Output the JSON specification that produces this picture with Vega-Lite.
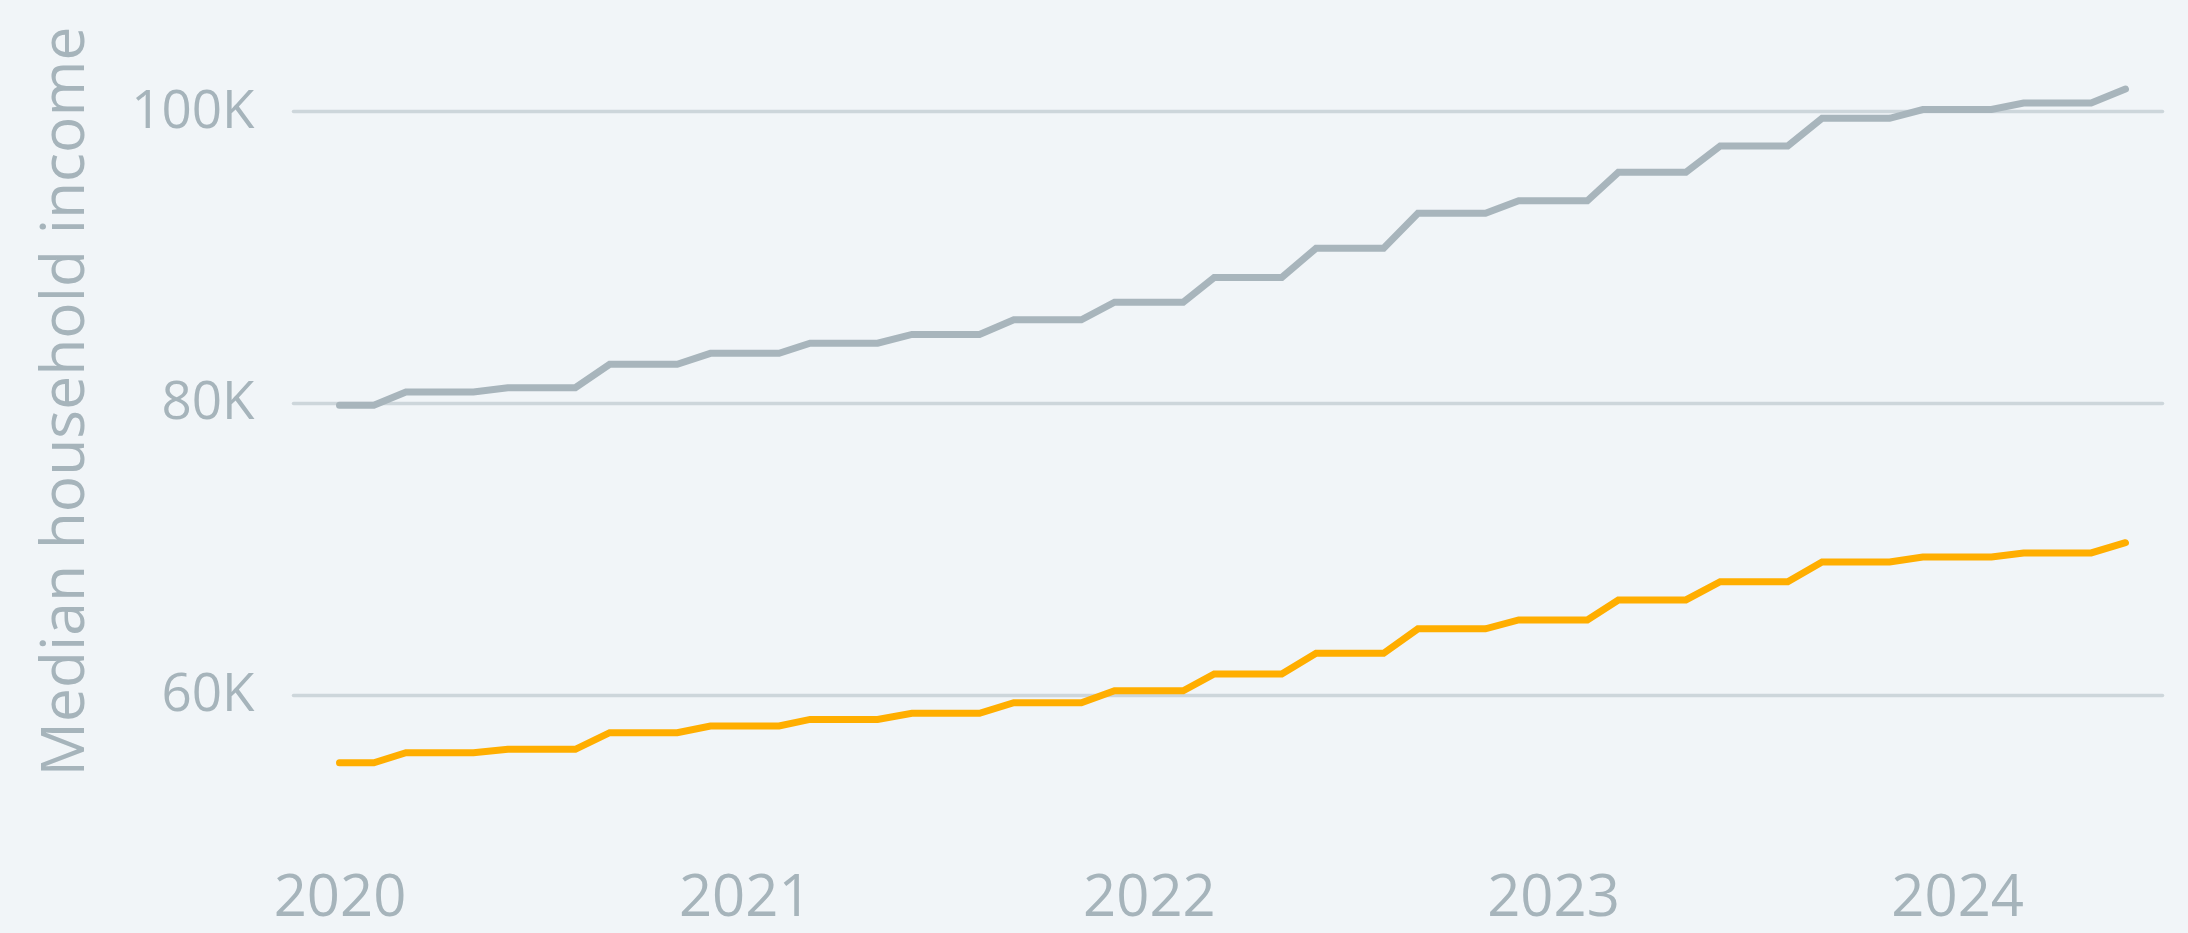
{
  "$schema": "https://vega.github.io/schema/vega-lite/v6.json",
  "autosize": "none",
  "width": 1869,
  "height": 820,
  "padding": {"left": 293, "top": 20, "right": 26, "bottom": 93},
  "background": "#f1f5f8",
  "config": {
    "view": {"stroke": null},
    "font": "Open Sans"
  },
  "data": {
    "values": [
      {"date": "2020-01-01", "series": "Gray", "value": 79850},
      {"date": "2020-02-01", "series": "Gray", "value": 79850},
      {"date": "2020-03-01", "series": "Gray", "value": 80750},
      {"date": "2020-04-01", "series": "Gray", "value": 80750},
      {"date": "2020-05-01", "series": "Gray", "value": 80750},
      {"date": "2020-06-01", "series": "Gray", "value": 81050},
      {"date": "2020-07-01", "series": "Gray", "value": 81050},
      {"date": "2020-08-01", "series": "Gray", "value": 81050},
      {"date": "2020-09-01", "series": "Gray", "value": 82650},
      {"date": "2020-10-01", "series": "Gray", "value": 82650},
      {"date": "2020-11-01", "series": "Gray", "value": 82650},
      {"date": "2020-12-01", "series": "Gray", "value": 83400},
      {"date": "2021-01-01", "series": "Gray", "value": 83400},
      {"date": "2021-02-01", "series": "Gray", "value": 83400},
      {"date": "2021-03-01", "series": "Gray", "value": 84100},
      {"date": "2021-04-01", "series": "Gray", "value": 84100},
      {"date": "2021-05-01", "series": "Gray", "value": 84100},
      {"date": "2021-06-01", "series": "Gray", "value": 84700},
      {"date": "2021-07-01", "series": "Gray", "value": 84700},
      {"date": "2021-08-01", "series": "Gray", "value": 84700},
      {"date": "2021-09-01", "series": "Gray", "value": 85700},
      {"date": "2021-10-01", "series": "Gray", "value": 85700},
      {"date": "2021-11-01", "series": "Gray", "value": 85700},
      {"date": "2021-12-01", "series": "Gray", "value": 86900},
      {"date": "2022-01-01", "series": "Gray", "value": 86900},
      {"date": "2022-02-01", "series": "Gray", "value": 86900},
      {"date": "2022-03-01", "series": "Gray", "value": 88600},
      {"date": "2022-04-01", "series": "Gray", "value": 88600},
      {"date": "2022-05-01", "series": "Gray", "value": 88600},
      {"date": "2022-06-01", "series": "Gray", "value": 90600},
      {"date": "2022-07-01", "series": "Gray", "value": 90600},
      {"date": "2022-08-01", "series": "Gray", "value": 90600},
      {"date": "2022-09-01", "series": "Gray", "value": 93000},
      {"date": "2022-10-01", "series": "Gray", "value": 93000},
      {"date": "2022-11-01", "series": "Gray", "value": 93000},
      {"date": "2022-12-01", "series": "Gray", "value": 93850},
      {"date": "2023-01-01", "series": "Gray", "value": 93850},
      {"date": "2023-02-01", "series": "Gray", "value": 93850},
      {"date": "2023-03-01", "series": "Gray", "value": 95800},
      {"date": "2023-04-01", "series": "Gray", "value": 95800},
      {"date": "2023-05-01", "series": "Gray", "value": 95800},
      {"date": "2023-06-01", "series": "Gray", "value": 97600},
      {"date": "2023-07-01", "series": "Gray", "value": 97600},
      {"date": "2023-08-01", "series": "Gray", "value": 97600},
      {"date": "2023-09-01", "series": "Gray", "value": 99500},
      {"date": "2023-10-01", "series": "Gray", "value": 99500},
      {"date": "2023-11-01", "series": "Gray", "value": 99500},
      {"date": "2023-12-01", "series": "Gray", "value": 100100},
      {"date": "2024-01-01", "series": "Gray", "value": 100100},
      {"date": "2024-02-01", "series": "Gray", "value": 100100},
      {"date": "2024-03-01", "series": "Gray", "value": 100550},
      {"date": "2024-04-01", "series": "Gray", "value": 100550},
      {"date": "2024-05-01", "series": "Gray", "value": 100550},
      {"date": "2024-06-01", "series": "Gray", "value": 101500},
      {"date": "2020-01-01", "series": "Orange", "value": 55360},
      {"date": "2020-02-01", "series": "Orange", "value": 55360},
      {"date": "2020-03-01", "series": "Orange", "value": 56050},
      {"date": "2020-04-01", "series": "Orange", "value": 56050},
      {"date": "2020-05-01", "series": "Orange", "value": 56050},
      {"date": "2020-06-01", "series": "Orange", "value": 56280},
      {"date": "2020-07-01", "series": "Orange", "value": 56280},
      {"date": "2020-08-01", "series": "Orange", "value": 56280},
      {"date": "2020-09-01", "series": "Orange", "value": 57420},
      {"date": "2020-10-01", "series": "Orange", "value": 57420},
      {"date": "2020-11-01", "series": "Orange", "value": 57420},
      {"date": "2020-12-01", "series": "Orange", "value": 57880},
      {"date": "2021-01-01", "series": "Orange", "value": 57880},
      {"date": "2021-02-01", "series": "Orange", "value": 57880},
      {"date": "2021-03-01", "series": "Orange", "value": 58330},
      {"date": "2021-04-01", "series": "Orange", "value": 58330},
      {"date": "2021-05-01", "series": "Orange", "value": 58330},
      {"date": "2021-06-01", "series": "Orange", "value": 58750},
      {"date": "2021-07-01", "series": "Orange", "value": 58750},
      {"date": "2021-08-01", "series": "Orange", "value": 58750},
      {"date": "2021-09-01", "series": "Orange", "value": 59470},
      {"date": "2021-10-01", "series": "Orange", "value": 59470},
      {"date": "2021-11-01", "series": "Orange", "value": 59470},
      {"date": "2021-12-01", "series": "Orange", "value": 60290},
      {"date": "2022-01-01", "series": "Orange", "value": 60290},
      {"date": "2022-02-01", "series": "Orange", "value": 60290},
      {"date": "2022-03-01", "series": "Orange", "value": 61440},
      {"date": "2022-04-01", "series": "Orange", "value": 61440},
      {"date": "2022-05-01", "series": "Orange", "value": 61440},
      {"date": "2022-06-01", "series": "Orange", "value": 62860},
      {"date": "2022-07-01", "series": "Orange", "value": 62860},
      {"date": "2022-08-01", "series": "Orange", "value": 62860},
      {"date": "2022-09-01", "series": "Orange", "value": 64530},
      {"date": "2022-10-01", "series": "Orange", "value": 64530},
      {"date": "2022-11-01", "series": "Orange", "value": 64530},
      {"date": "2022-12-01", "series": "Orange", "value": 65140},
      {"date": "2023-01-01", "series": "Orange", "value": 65140},
      {"date": "2023-02-01", "series": "Orange", "value": 65140},
      {"date": "2023-03-01", "series": "Orange", "value": 66510},
      {"date": "2023-04-01", "series": "Orange", "value": 66510},
      {"date": "2023-05-01", "series": "Orange", "value": 66510},
      {"date": "2023-06-01", "series": "Orange", "value": 67760},
      {"date": "2023-07-01", "series": "Orange", "value": 67760},
      {"date": "2023-08-01", "series": "Orange", "value": 67760},
      {"date": "2023-09-01", "series": "Orange", "value": 69110},
      {"date": "2023-10-01", "series": "Orange", "value": 69110},
      {"date": "2023-11-01", "series": "Orange", "value": 69110},
      {"date": "2023-12-01", "series": "Orange", "value": 69450},
      {"date": "2024-01-01", "series": "Orange", "value": 69450},
      {"date": "2024-02-01", "series": "Orange", "value": 69450},
      {"date": "2024-03-01", "series": "Orange", "value": 69730},
      {"date": "2024-04-01", "series": "Orange", "value": 69730},
      {"date": "2024-05-01", "series": "Orange", "value": 69730},
      {"date": "2024-06-01", "series": "Orange", "value": 70430}
    ]
  },
  "mark": {"type": "line", "strokeWidth": 7, "strokeCap": "round", "strokeJoin": "miter"},
  "encoding": {
    "x": {
      "field": "date",
      "type": "temporal",
      "scale": {
        "type": "utc",
        "domain": [
          {"year": 2019, "month": 11, "date": 20, "utc": true},
          {"year": 2024, "month": 7, "date": 4, "utc": true}
        ]
      },
      "axis": {
        "title": null,
        "format": "%Y",
        "tickCount": {"interval": "year", "step": 1},
        "grid": false,
        "domain": false,
        "ticks": false,
        "tickSize": 0,
        "labelPadding": 75,
        "labelBaseline": "alphabetic",
        "labelFontSize": 58,
        "labelFont": "Open Sans",
        "labelFontWeight": 400,
        "labelColor": "#a6b4bb",
        "labelFlush": false
      }
    },
    "y": {
      "field": "value",
      "type": "quantitative",
      "scale": {"domain": [50068, 106233], "nice": false, "zero": false},
      "axis": {
        "title": "Median household income",
        "values": [60000, 80000, 100000],
        "labelExpr": "format(datum.value / 1000, 'd') + 'K'",
        "grid": true,
        "gridColor": "#cdd6db",
        "gridWidth": 3.5,
        "gridCap": "round",
        "domain": false,
        "ticks": false,
        "tickSize": 0,
        "labelPadding": 39,
        "labelFontSize": 53,
        "labelFont": "Open Sans",
        "labelFontWeight": 400,
        "labelColor": "#a6b4bb",
        "labelBaseline": "middle",
        "titleFont": "Open Sans",
        "titleFontWeight": 400,
        "titleFontSize": 60.5,
        "titleColor": "#a6b4bb",
        "titleAngle": -90,
        "titleAlign": "center",
        "titleBaseline": "alphabetic",
        "titleX": -210,
        "titleY": 381
      }
    },
    "color": {
      "field": "series",
      "type": "nominal",
      "scale": {"domain": ["Gray", "Orange"], "range": ["#a8b5bc", "#ffae00"]},
      "legend": null
    }
  }
}
